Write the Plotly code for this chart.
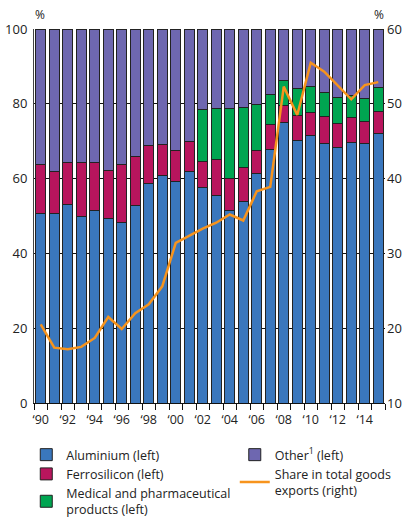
import plotly.graph_objects as go

years = list(range(1990, 2016))
aluminium = [50.6, 50.6, 53.2, 50.0, 51.5, 49.2, 48.3, 52.8, 58.6, 60.7, 59.3, 62.0, 57.5,
             55.4, 51.4, 54.0, 61.3, 67.8, 75.0, 70.2, 71.5, 69.5, 68.2, 69.6, 69.4, 72.1]
ferro_top = [63.7, 61.8, 64.2, 64.4, 64.2, 62.1, 63.7, 65.8, 68.8, 69.2, 67.6, 70.0, 64.7,
             65.2, 60.0, 63.1, 67.6, 74.5, 79.6, 76.9, 77.6, 76.6, 74.7, 76.3, 75.3, 77.9]
medical_top = [None] * 12 + [78.4, 78.8, 78.8, 78.9, 79.8, 82.4, 86.1, 84.2, 84.6, 82.9,
                             81.7, 82.3, 81.3, 84.3]
share = [20.5, 17.4, 17.2, 17.5, 18.7, 21.5, 19.9, 22.0, 23.2, 25.6, 31.4, 32.4, 33.3,
         34.1, 35.2, 34.4, 38.3, 38.9, 52.3, 48.5, 55.5, 54.3, 52.5, 50.6, 52.5, 52.9]

ferro = [round(f - a, 2) for f, a in zip(ferro_top, aluminium)]
medical = [0 if m is None else round(m - f, 2) for m, f in zip(medical_top, ferro_top)]
other = [round(100 - (m if m is not None else f), 2) for m, f in zip(medical_top, ferro_top)]

tick_years = list(range(1990, 2015, 2))
tick_text = ["\u2018" + str(y)[2:] for y in tick_years]

C_ALU = "#3a77bd"
C_FER = "#b8155d"
C_MED = "#00a551"
C_OTH = "#6e67b0"
C_LINE = "#f7941d"
OUT = dict(color="#222222", width=1)
FONT = "Open Sans"

fig = go.Figure()
fig.add_bar(x=years, y=aluminium, name="Aluminium (left)", marker=dict(color=C_ALU, line=OUT),
            legend="legend")
fig.add_bar(x=years, y=ferro, name="Ferrosilicon (left)", marker=dict(color=C_FER, line=OUT),
            legend="legend")
fig.add_bar(x=years, y=medical, name="Medical and pharmaceutical<br>products (left)",
            marker=dict(color=C_MED, line=OUT), legend="legend")
fig.add_bar(x=years, y=other, name="Other<sup>1</sup> (left)", marker=dict(color=C_OTH, line=OUT),
            legend="legend2")
fig.add_scatter(x=years, y=share, yaxis="y2", mode="lines",
                name="Share in total goods<br>exports (right)",
                line=dict(color=C_LINE, width=2.5), legend="legend2")

fig.update_layout(
    template="none",
    width=407, height=523,
    margin=dict(l=34, r=22, t=29, b=120, autoexpand=False),
    barmode="stack", bargap=0.24, hovermode=False,
    paper_bgcolor="white", plot_bgcolor="white",
    font=dict(family=FONT, size=12, color="#222"),
    xaxis=dict(range=[1989.5, 2015.5], tickvals=tick_years, ticktext=tick_text,
               ticks="", showgrid=False, showline=True, linecolor="#111", linewidth=1,
               tickfont=dict(size=12.5), automargin=False, ticklabelstandoff=5,
               zeroline=False,
               minor=dict(ticks="outside", tick0=1989.5, dtick=1, ticklen=6,
                          tickcolor="#111", showgrid=False,
                          gridcolor="rgba(0,0,0,0)")),
    yaxis=dict(range=[0, 100], dtick=20, showgrid=True, gridcolor="#111", gridwidth=1,
               showline=True, linecolor="#444", linewidth=1, ticks="",
               ticklabelstandoff=3, zeroline=False, tickfont=dict(size=13), automargin=False),
    yaxis2=dict(range=[10, 60], dtick=10, overlaying="y", side="right", showgrid=False,
                showline=False, ticks="", ticklabelstandoff=1,
                zeroline=False, tickfont=dict(size=13), automargin=False),
    legend=dict(x=-0.022, y=-0.099, xanchor="left", yanchor="top", orientation="v",
                traceorder="normal", font=dict(size=12.5), tracegroupgap=2,
                bgcolor="rgba(0,0,0,0)", borderwidth=0),
    legend2=dict(x=0.572, y=-0.099, xanchor="left", yanchor="top", orientation="v",
                 traceorder="normal", font=dict(size=12.5), tracegroupgap=2,
                 bgcolor="rgba(0,0,0,0)", borderwidth=0),
    showlegend=True,
)
fig.add_annotation(text="%", xref="paper", yref="paper", x=0.0, y=1.0, yanchor="bottom",
                   xanchor="center", showarrow=False, font=dict(size=12), yshift=4, xshift=6)
fig.add_annotation(text="%", xref="paper", yref="paper", x=1.0, y=1.0, yanchor="bottom",
                   xanchor="center", showarrow=False, font=dict(size=12), yshift=4, xshift=-6)

fig.write_html("out.html", config={"staticPlot": True, "displayModeBar": False},
               post_script="document.body.style.margin='0px';")
